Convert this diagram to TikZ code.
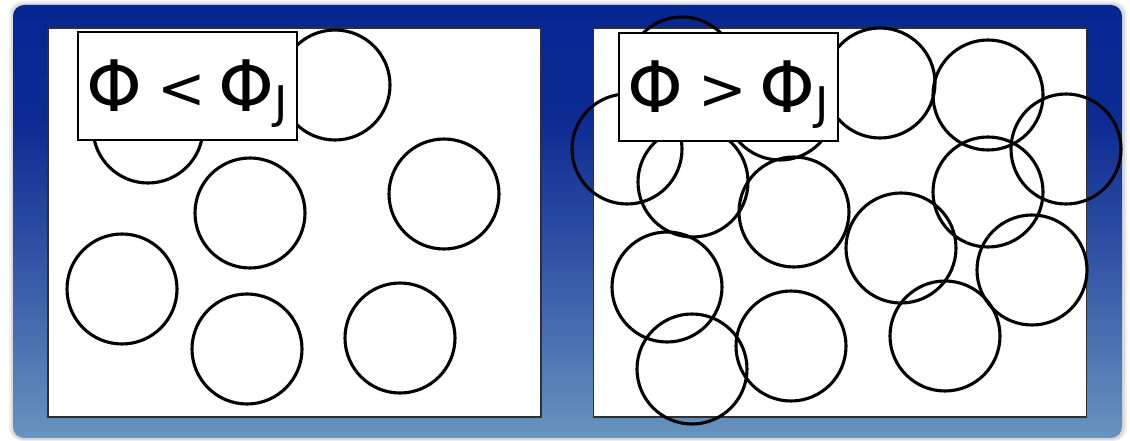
\documentclass[tikz,border=0pt]{standalone}
\usepackage{fontspec}
\setmainfont{DejaVu Sans}
\usepackage{tikz}
\usetikzlibrary{positioning}

\definecolor{bgtop}{RGB}{6,38,146}
\definecolor{bgup}{RGB}{12,42,146}
\definecolor{bgmid}{RGB}{52,86,166}
\definecolor{bgbot}{RGB}{104,148,190}
\definecolor{rim}{RGB}{48,48,52}

\pgfdeclareverticalshading{slidebg}{100bp}{color(0bp)=(bgbot); color(25bp)=(bgbot);
  color(45bp)=(bgmid); color(62bp)=(bgup); color(75bp)=(bgtop); color(100bp)=(bgtop)}

% знак поређења и индекс J
\newcommand{\cmpsign}[1]{\hspace{15pt}\raisebox{3pt}{\fontsize{58}{58}\selectfont #1}\hspace{13pt}}
\newcommand{\jamsub}{\raisebox{-7pt}{\fontsize{45}{45}\selectfont J}}

\begin{document}
\begin{tikzpicture}[
        x=1pt, y=-1pt,
        panel/.style={draw=rim, line width=1.8pt, fill=white, minimum width=493pt, minimum height=389pt, inner sep=0pt},
        grain/.style={draw=black, line width=3.1pt},
        philbl/.style={draw=black, line width=1.6pt, fill=white, anchor=north west, minimum width=219pt, minimum height=108pt,
            inner sep=0pt, text height=80pt, text depth=28pt, align=center, font=\fontsize{71}{75}\selectfont}
    ]
        \useasboundingbox (0,0) rectangle (1130,441);

        % --- Фон ---
        \fill[gray!12, rounded corners=13pt] (9,1) rectangle (1127,441);
        \fill[gray!28, rounded corners=12pt] (11,3) rectangle (1125,440);
        \shade[shading=slidebg, rounded corners=11pt] (13,5) rectangle (1122,438);

        % --- Панели ---
        \node[panel] (lowbox) at (294.5,222.5) {};
        \node[panel] (highbox) at (840,222.5) {};

        % --- Честице, лево: разређено ---
        \foreach \cx/\cy in {148/128, 335/85, 250/213, 444/194, 122/289, 247/349, 400/338}
            \draw[grain] (\cx,\cy) circle[radius=55pt];

        % --- Честице, десно: збијено ---
        \foreach \cx/\cy in {682/72, 780/105, 880/83, 988/95, 1066/149, 627/149, 693/182, 794/212,
                             988/192, 901/248, 1032/270, 667/287, 791/346, 945/336, 692/369}
            \draw[grain] (\cx,\cy) circle[radius=55pt];

        % --- Ознаке ---
        \node[philbl] (lowlbl) at (77,31) {Φ\cmpsign{<}Φ\jamsub};
        \node[philbl] (highlbl) at (618,32) {Φ\cmpsign{>}Φ\jamsub};
    \end{tikzpicture}
\end{document}
